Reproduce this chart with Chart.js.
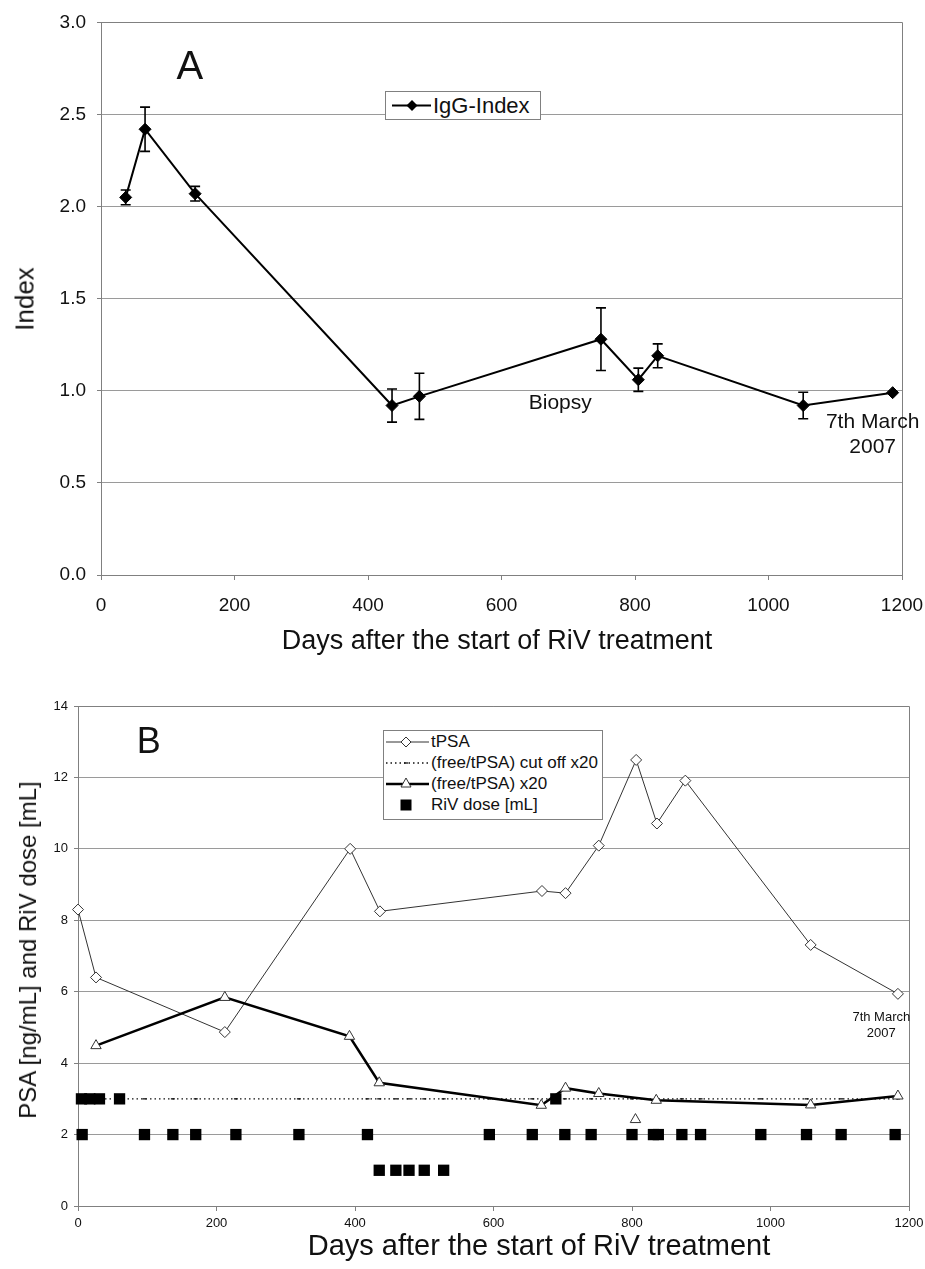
<!DOCTYPE html>
<html>
<head>
<meta charset="utf-8">
<script src="https://cdn.jsdelivr.net/npm/chart.js@4.4.1/dist/chart.umd.min.js"></script>
<style>
  html, body { margin: 0; padding: 0; background: #fff; }
  #page { position: relative; width: 925px; height: 1269px; overflow: hidden;
          font-family: 'Liberation Sans', Arial, sans-serif; color: #111; }
  canvas { position: absolute; left: 0; }
  #chartA { top: 0; }
  #chartB { top: 660px; }
  .title { position: absolute; white-space: nowrap; transform: translate(-50%, -50%); }
  .vtitle { position: absolute; white-space: nowrap; transform: translate(-50%, -50%) rotate(-90deg); }
  .legend { position: absolute; background: #fff; border: 1px solid #808080; box-sizing: border-box; }
  .legend .row { position: absolute; left: 0; display: flex; align-items: center; white-space: nowrap; }
  .legend svg { display: block; flex: none; }
</style>
</head>
<body>
<div id="page">
  <canvas id="chartA" width="925" height="660"></canvas>
  <canvas id="chartB" width="925" height="609"></canvas>

  <div class="vtitle" style="left:25px; top:299px; font-size:26px;">Index</div>
  <div class="title" style="left:497px; top:640px; font-size:27px;">Days after the start of RiV treatment</div>
  <div class="vtitle" style="left:28px; top:950px; font-size:24px;">PSA [ng/mL] and RiV dose [mL]</div>
  <div class="title" style="left:539px; top:1245px; font-size:29px;">Days after the start of RiV treatment</div>

  <!-- legend A -->
  <div class="legend" style="left:385px; top:91px; width:156px; height:29px;">
    <div class="row" style="top:0; height:27px; font-size:22px;">
      <svg width="47" height="27">
        <line x1="6" y1="13.5" x2="45" y2="13.5" stroke="#000" stroke-width="2"/>
        <polygon points="26,8 31.5,13.5 26,19 20.5,13.5" fill="#000"/>
      </svg>
      <span>IgG-Index</span>
    </div>
  </div>

  <!-- legend B -->
  <div class="legend" style="left:383px; top:730px; width:220px; height:90px;">
    <div class="row" style="top:1px; height:20px; font-size:17px;">
      <svg width="47" height="20">
        <line x1="2" y1="10" x2="45" y2="10" stroke="#333" stroke-width="1"/>
        <polygon points="22,5 27,10 22,15 17,10" fill="#fff" stroke="#333" stroke-width="1"/>
      </svg>
      <span>tPSA</span>
    </div>
    <div class="row" style="top:22px; height:20px; font-size:17px;">
      <svg width="47" height="20">
        <line x1="2" y1="10" x2="45" y2="10" stroke="#111" stroke-width="1.3" stroke-dasharray="1.5,3"/>
        <line x1="20" y1="10" x2="24" y2="10" stroke="#111" stroke-width="1.3"/>
      </svg>
      <span>(free/tPSA) cut off x20</span>
    </div>
    <div class="row" style="top:43px; height:20px; font-size:17px;">
      <svg width="47" height="20">
        <line x1="2" y1="10" x2="45" y2="10" stroke="#000" stroke-width="2.5"/>
        <polygon points="22,4 27,13 17,13" fill="#fff" stroke="#333" stroke-width="1"/>
      </svg>
      <span>(free/tPSA) x20</span>
    </div>
    <div class="row" style="top:64px; height:20px; font-size:17px;">
      <svg width="47" height="20">
        <rect x="16.5" y="4.5" width="11" height="11" fill="#000"/>
      </svg>
      <span>RiV dose [mL]</span>
    </div>
  </div>
</div>

<script>
// ── Data: panel A (IgG-Index) ────────────────────────────────────────────────
const iggDays = [37, 66, 141, 436, 477, 749, 805, 834, 1052, 1186];
const igg     = [2.05, 2.42, 2.07, 0.92, 0.97, 1.28, 1.06, 1.19, 0.92, 0.99];
const iggErr  = [0.04, 0.12, 0.04, 0.09, 0.125, 0.17, 0.063, 0.065, 0.072, 0];

// ── Data: panel B ────────────────────────────────────────────────────────────
const tpsaDays = [0, 26, 212, 393, 436, 670, 704, 752, 806, 836, 877, 1058, 1184];
const tpsa     = [8.3, 6.4, 4.87, 10.0, 8.25, 8.82, 8.76, 10.09, 12.49, 10.71, 11.91, 7.31, 5.94];

const ratioDays = [26, 212, 392, 435, 669, 704, 752, 835, 1058, 1184];
const ratio     = [4.49, 5.84, 4.75, 3.45, 2.82, 3.3, 3.15, 2.96, 2.83, 3.08];
const ratioLoneDays = [805];
const ratioLone     = [2.42];

const cutDays = [0, 96, 137, 170, 228, 319, 418, 435, 459, 478, 500, 528, 594, 656, 703,
                 741, 800, 836, 872, 899, 986, 1052, 1102, 1184];
const cutValue = 3;

const doseDays = [5, 17, 31, 60, 690,
                  6, 96, 137, 170, 228, 319, 418, 594, 656, 703, 741, 800, 831, 838, 872, 899, 986, 1052, 1102, 1180,
                  435, 459, 478, 500, 528];
const dose     = [3, 3, 3, 3, 3,
                  2, 2, 2, 2, 2, 2, 2, 2, 2, 2, 2, 2, 2, 2, 2, 2, 2, 2, 2, 2,
                  1, 1, 1, 1, 1];

const xTicksMax = 1200;

// ── Helpers ──────────────────────────────────────────────────────────────────
Chart.defaults.font.family = "'Liberation Sans', Arial, sans-serif";
Chart.defaults.color = '#111';

const pts = (xs, ys) => xs.map((d, i) => ({ x: d, y: ys[i] }));

const GRID = '#9a9a9a';
const AXIS = '#808080';

// plot-area frame (top + right edges)
const frame = {
  id: 'frame',
  beforeDatasetsDraw(chart) {
    const { ctx, chartArea: a } = chart;
    ctx.save();
    ctx.strokeStyle = AXIS;
    ctx.lineWidth = 1;
    const r = Math.round(a.right) + 0.5, t = Math.round(a.top) + 0.5;
    ctx.beginPath();
    ctx.moveTo(a.left, t); ctx.lineTo(r, t); ctx.lineTo(r, a.bottom);
    ctx.stroke();
    ctx.restore();
  }
};

// error bars for IgG
const errorBars = {
  id: 'errorBars',
  afterDatasetsDraw(chart) {
    const { ctx, scales: { x, y } } = chart;
    ctx.save();
    ctx.strokeStyle = '#000';
    ctx.lineWidth = 1.6;
    iggDays.forEach((d, i) => {
      const e = iggErr[i];
      if (!e) return;
      const px = x.getPixelForValue(d);
      const top = y.getPixelForValue(igg[i] + e);
      const bot = y.getPixelForValue(igg[i] - e);
      ctx.beginPath();
      ctx.moveTo(px, top); ctx.lineTo(px, bot);
      ctx.moveTo(px - 5, top); ctx.lineTo(px + 5, top);
      ctx.moveTo(px - 5, bot); ctx.lineTo(px + 5, bot);
      ctx.stroke();
    });
    ctx.restore();
  }
};

// text notes anchored in data coordinates
function notes(items) {
  return {
    id: 'notes',
    afterDraw(chart) {
      const { ctx, scales: { x, y } } = chart;
      ctx.save();
      ctx.fillStyle = '#111';
      ctx.textAlign = 'center';
      ctx.textBaseline = 'middle';
      items.forEach(n => {
        ctx.font = n.font;
        n.lines.forEach((t, k) =>
          ctx.fillText(t, x.getPixelForValue(n.x), y.getPixelForValue(n.y) + k * n.lh));
      });
      ctx.restore();
    }
  };
}

const FONT = "'Liberation Sans', Arial, sans-serif";
const plain = v => String(v);
// fixed x-axis box: no extra side padding for edge labels
const fitX = h => s => { s.height = h; s.paddingLeft = 0; s.paddingRight = 0; };

// ── Panel A ──────────────────────────────────────────────────────────────────
new Chart(document.getElementById('chartA'), {
  type: 'line',
  data: {
    datasets: [{
      label: 'IgG-Index',
      data: pts(iggDays, igg),
      borderColor: '#000', borderWidth: 2,
      pointStyle: 'rectRot', pointRadius: 6,
      pointBackgroundColor: '#000', pointBorderColor: '#000', pointBorderWidth: 1,
      tension: 0, clip: false
    }]
  },
  options: {
    responsive: false, animation: false,
    layout: { padding: { top: 20, right: 23, left: 0, bottom: 0 } },
    plugins: { legend: { display: false }, tooltip: { enabled: false } },
    scales: {
      x: {
        type: 'linear', min: 0, max: xTicksMax,
        afterFit: fitX(85),
        ticks: { stepSize: 200, font: { size: 19 }, padding: 14, maxRotation: 0, callback: plain },
        grid: { drawOnChartArea: false, drawTicks: true, tickLength: 5, tickColor: AXIS },
        border: { color: AXIS, width: 1 }
      },
      y: {
        min: 0, max: 3,
        afterFit: s => { s.width = 101; },
        ticks: { stepSize: 0.5, font: { size: 19 }, padding: 11, callback: v => v.toFixed(1) },
        grid: { color: GRID, drawTicks: true, tickLength: 4, tickColor: AXIS },
        border: { color: AXIS, width: 1 }
      }
    }
  },
  plugins: [frame, errorBars, notes([
    { x: 133, y: 2.75, lines: ['A'], font: `40px ${FONT}`, lh: 0 },
    { x: 688, y: 0.93, lines: ['Biopsy'], font: `21px ${FONT}`, lh: 0 },
    { x: 1156, y: 0.83, lines: ['7th March', '2007'], font: `21px ${FONT}`, lh: 25 }
  ])]
});

// ── Panel B ──────────────────────────────────────────────────────────────────
new Chart(document.getElementById('chartB'), {
  type: 'line',
  data: {
    datasets: [
      {
        label: 'tPSA',
        data: pts(tpsaDays, tpsa),
        borderColor: '#333', borderWidth: 1,
        pointStyle: 'rectRot', pointRadius: 5.5,
        pointBackgroundColor: '#fff', pointBorderColor: '#333', pointBorderWidth: 1,
        tension: 0, clip: false, order: 3
      },
      {
        label: '(free/tPSA) cut off x20',
        data: cutDays.map(d => ({ x: d, y: cutValue })),
        borderColor: '#111', borderWidth: 1.3, borderDash: [1.5, 3],
        pointStyle: 'line', pointRadius: 2, pointBorderColor: '#111', pointBorderWidth: 1.3,
        tension: 0, clip: false, order: 2
      },
      {
        label: '(free/tPSA) x20',
        data: pts(ratioDays, ratio),
        borderColor: '#000', borderWidth: 2.5,
        pointStyle: 'triangle', pointRadius: 6,
        pointBackgroundColor: '#fff', pointBorderColor: '#333', pointBorderWidth: 1,
        tension: 0, clip: false, order: 1
      },
      {
        label: '(free/tPSA) x20 single',
        data: pts(ratioLoneDays, ratioLone),
        showLine: false,
        pointStyle: 'triangle', pointRadius: 6,
        pointBackgroundColor: '#fff', pointBorderColor: '#333', pointBorderWidth: 1,
        clip: false, order: 1
      },
      {
        label: 'RiV dose [mL]',
        data: pts(doseDays, dose),
        showLine: false,
        pointStyle: 'rect', pointRadius: 8,
        pointBackgroundColor: '#000', pointBorderColor: '#000', pointBorderWidth: 0,
        clip: false, order: 0
      }
    ]
  },
  options: {
    responsive: false, animation: false,
    layout: { padding: { top: 46, right: 16, left: 0, bottom: 0 } },
    plugins: { legend: { display: false }, tooltip: { enabled: false } },
    scales: {
      x: {
        type: 'linear', min: 0, max: xTicksMax,
        afterFit: fitX(63),
        ticks: { stepSize: 200, font: { size: 13 }, padding: 5, maxRotation: 0, callback: plain },
        grid: { drawOnChartArea: false, drawTicks: true, tickLength: 5, tickColor: AXIS },
        border: { color: AXIS, width: 1 }
      },
      y: {
        min: 0, max: 14,
        afterFit: s => { s.width = 78; },
        ticks: { stepSize: 2, font: { size: 13 }, padding: 6 },
        grid: { color: GRID, drawTicks: true, tickLength: 4, tickColor: AXIS },
        border: { color: AXIS, width: 1 }
      }
    }
  },
  plugins: [frame, notes([
    { x: 102, y: 12.95, lines: ['B'], font: `36px ${FONT}`, lh: 0 },
    { x: 1160, y: 5.27, lines: ['7th March', '2007'], font: `13px ${FONT}`, lh: 16 }
  ])]
});
</script>
</body>
</html>
